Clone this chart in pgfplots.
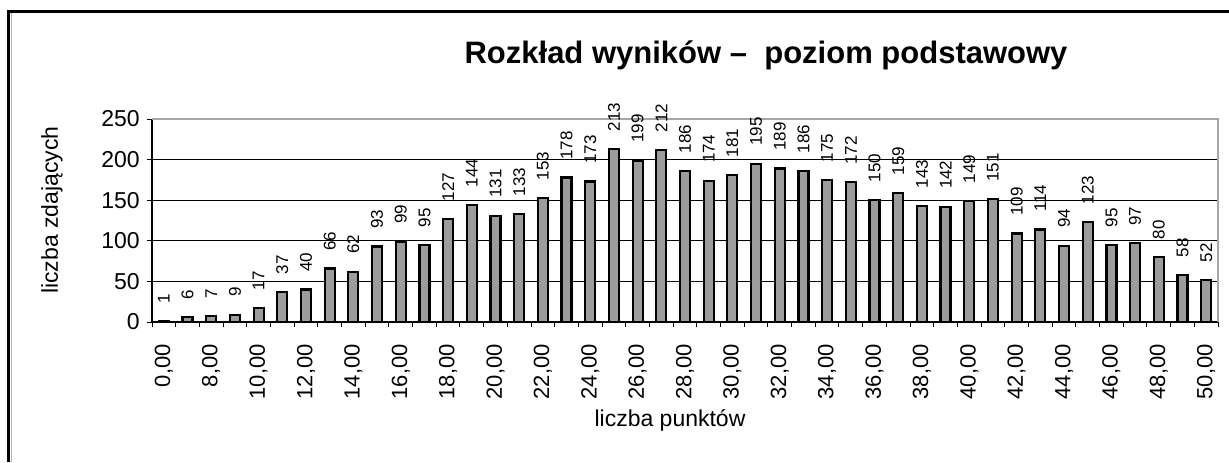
\documentclass[border=0pt]{standalone}
\usepackage{fontspec}
\setmainfont{Liberation Sans}
\usepackage{pgfplots}
\pgfplotsset{compat=1.18}
\definecolor{barfill}{HTML}{9C9C9C}
\begin{document}
\begin{tikzpicture}
\useasboundingbox (0,0) rectangle (614.5pt,231pt);
\begin{axis}[
  at={(76pt,70pt)}, anchor=south west,
  scale only axis, width=533pt, height=101.5pt,
  xmin=-0.5, xmax=44.5, ymin=0, ymax=250,
  clip=false,
  axis x line*=bottom, axis y line*=left,
  axis line style={black, line width=0.6pt},
  ytick={0,50,...,250},
  ymajorgrids, grid style={black, line width=0.45pt},
  xtick={0,2,...,44},
  minor xtick={-0.5,0.5,...,44.5},
  xticklabels={{0,00},{8,00},{10,00},{12,00},{14,00},{16,00},{18,00},{20,00},{22,00},{24,00},{26,00},{28,00},{30,00},{32,00},{34,00},{36,00},{38,00},{40,00},{42,00},{44,00},{46,00},{48,00},{50,00}},
  tick align=outside,
  major x tick style={draw=none},
  minor tick length=2.6pt,
  major tick length=2.6pt,
  tick style={black, line width=0.5pt},
  /pgf/number format/assume math mode=true,
  xticklabel shift=5pt,
  xticklabel style={rotate=90, anchor=east, font=\fontsize{11}{12}\selectfont},
  yticklabel style={font=\fontsize{11.5}{13}\selectfont},
  ybar, bar width=5pt,
  nodes near coords,
  every node near coord/.append style={rotate=90, anchor=west, font=\fontsize{8.5}{9}\selectfont, xshift=5pt},
]
\addplot[draw=black, line width=1.1pt, fill=barfill] coordinates {
(0,1) (1,6) (2,7) (3,9) (4,17) (5,37) (6,40) (7,66) (8,62) (9,93)
(10,99) (11,95) (12,127) (13,144) (14,131) (15,133) (16,153) (17,178) (18,173) (19,213)
(20,199) (21,212) (22,186) (23,174) (24,181) (25,195) (26,189) (27,186) (28,175) (29,172)
(30,150) (31,159) (32,143) (33,142) (34,149) (35,151) (36,109) (37,114) (38,94) (39,123)
(40,95) (41,97) (42,80) (43,58) (44,52)
};
\draw[gray!70, line width=0.6pt] (rel axis cs:0,1) -- (rel axis cs:1,1) -- (rel axis cs:1,0);
\end{axis}
\node[font=\bfseries\fontsize{15.5}{17}\selectfont] at (383pt,203.5pt) {Rozkład wyników –\ \ poziom podstawowy};
\node[rotate=90, font=\fontsize{11.5}{13}\selectfont] at (26pt,126pt) {liczba zdających};
\node[font=\fontsize{11.5}{13}\selectfont] at (335pt,21pt) {liczba punktów};
\draw[black, line width=1.5pt] (3.5pt,225.25pt) -- (614.5pt,225.25pt);
\draw[black, line width=1.5pt] (4.25pt,226pt) -- (4.25pt,0pt);
\draw[gray!60, line width=0.5pt] (5.75pt,224.5pt) -- (5.75pt,0pt);
\end{tikzpicture}
\end{document}
